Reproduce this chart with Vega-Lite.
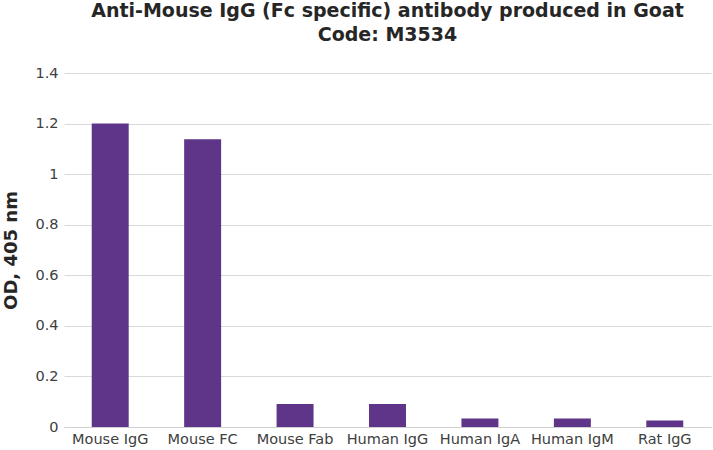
{
  "$schema": "https://vega.github.io/schema/vega-lite/v6.json",
  "autosize": {"type": "fit", "contains": "padding"},
  "width": 713,
  "height": 450,
  "padding": {"left": 2, "top": 2, "right": 2, "bottom": 4},
  "background": "white",
  "title": {
    "text": ["Anti-Mouse IgG (Fc specific) antibody produced in Goat", "Code: M3534"],
    "font": "DejaVu Sans",
    "fontSize": 19,
    "fontWeight": "bold",
    "color": "#262626",
    "anchor": "middle",
    "lineHeight": 24,
    "offset": 20
  },
  "data": {
    "values": [
      {"sample": "Mouse IgG", "od": 1.2},
      {"sample": "Mouse FC", "od": 1.138},
      {"sample": "Mouse Fab", "od": 0.091},
      {"sample": "Human IgG", "od": 0.091},
      {"sample": "Human IgA", "od": 0.034},
      {"sample": "Human IgM", "od": 0.034},
      {"sample": "Rat IgG", "od": 0.026}
    ]
  },
  "mark": {"type": "bar", "color": "#5E3589"},
  "encoding": {
    "x": {
      "field": "sample",
      "type": "nominal",
      "sort": null,
      "title": null,
      "scale": {"paddingInner": 0.6, "paddingOuter": 0.3},
      "axis": {
        "labelAngle": 0,
        "labelFont": "DejaVu Sans",
        "labelFontSize": 14.5,
        "labelColor": "#404040",
        "ticks": false,
        "domainColor": "#d0d0d0",
        "labelPadding": 5
      }
    },
    "y": {
      "field": "od",
      "type": "quantitative",
      "title": "OD, 405 nm",
      "scale": {"domain": [0, 1.4]},
      "axis": {
        "values": [0, 0.2, 0.4, 0.6, 0.8, 1, 1.2, 1.4],
        "format": "~g",
        "labelFont": "DejaVu Sans",
        "labelFontSize": 14.5,
        "labelColor": "#404040",
        "titleFont": "DejaVu Sans",
        "titleFontSize": 18,
        "titleFontWeight": "bold",
        "titleColor": "#262626",
        "titlePadding": 14,
        "domain": false,
        "ticks": false,
        "labelPadding": 6,
        "gridColor": "#d9d9d9"
      }
    }
  },
  "config": {"view": {"stroke": null}}
}
